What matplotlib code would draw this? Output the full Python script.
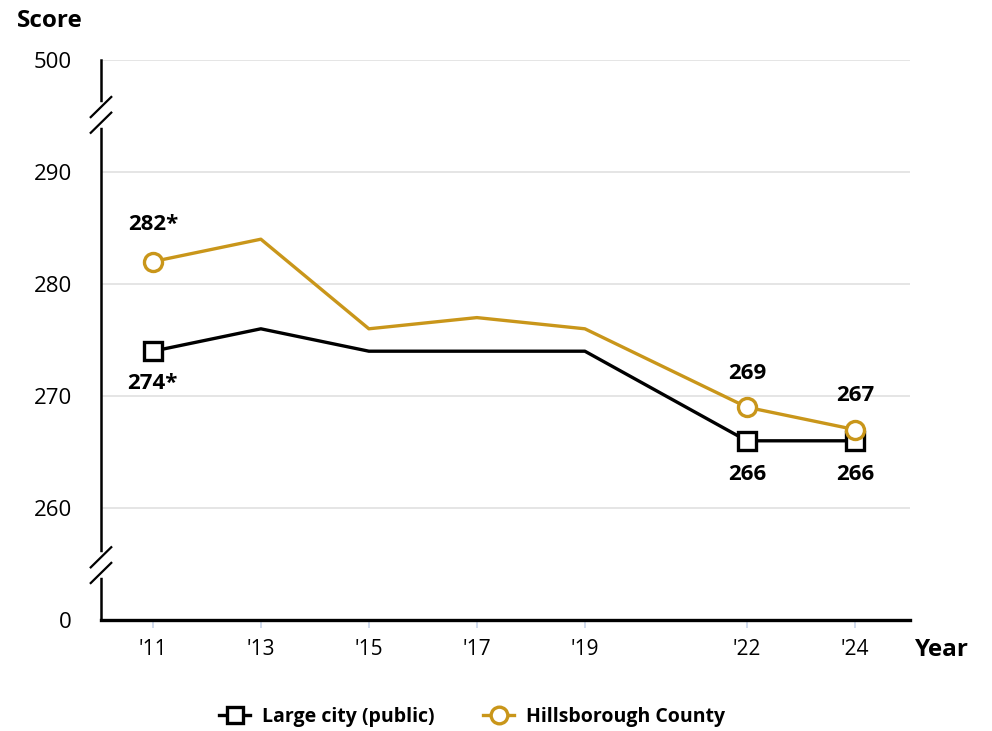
import matplotlib.pyplot as plt
from matplotlib.lines import Line2D

plt.rcParams['font.family'] = ['Open Sans', 'DejaVu Sans']

# === Dados ===
anos = [2011, 2013, 2015, 2017, 2019, 2022, 2024]
rotulos_x = ["'11", "'13", "'15", "'17", "'19", "'22", "'24"]
cidade = [274, 276, 274, 274, 274, 266, 266]
hillsborough = [282, 284, 276, 277, 276, 269, 267]
ticks_y = [250, 260, 270, 280, 290, 300]
rotulos_y = ["0", "260", "270", "280", "290", "500"]

PRETO = "#000000"
OURO = "#C9961A"
CINZA = "#E3E3E3"

fig = plt.figure(figsize=(9.92, 7.31), dpi=100)
ax = fig.add_axes([101/992, 1 - 620/731, (910-101)/992, (620-60)/731])
ax.set_xlim(2010.04, 2025.02)
ax.set_ylim(250, 300)

# grade
for v in ticks_y[1:]:
    ax.axhline(v, color=CINZA, lw=1.3, zorder=0)

ax.plot(anos, cidade, color=PRETO, lw=2.4, zorder=3)
ax.plot(anos, hillsborough, color=OURO, lw=2.4, zorder=3)

# marcadores só nos pontos rotulados
idx = [0, 5, 6]
ax.plot([anos[i] for i in idx], [cidade[i] for i in idx], ls='none', marker='s',
        ms=13, mfc='white', mec=PRETO, mew=2.4, zorder=4)
ax.plot([anos[i] for i in idx], [hillsborough[i] for i in idx], ls='none', marker='o',
        ms=13, mfc='white', mec=OURO, mew=2.4, zorder=5)

# rótulos
fs = 16
ax.annotate("282*", (anos[0], hillsborough[0]), xytext=(0, 27), textcoords='offset points',
            ha='center', va='center', fontsize=fs, fontweight='bold')
ax.annotate("274*", (anos[0], cidade[0]), xytext=(0, -23.5), textcoords='offset points',
            ha='center', va='center', fontsize=fs, fontweight='bold')
ax.annotate("269", (anos[5], hillsborough[5]), xytext=(0, 24.5), textcoords='offset points',
            ha='center', va='center', fontsize=fs, fontweight='bold')
ax.annotate("267", (anos[6], hillsborough[6]), xytext=(0, 24.5), textcoords='offset points',
            ha='center', va='center', fontsize=fs, fontweight='bold')
for i in [5, 6]:
    ax.annotate(str(cidade[i]), (anos[i], cidade[i]), xytext=(0, -24), textcoords='offset points',
                ha='center', va='center', fontsize=fs, fontweight='bold')

# eixos
for s in ['top', 'right']:
    ax.spines[s].set_visible(False)
ax.spines['left'].set_linewidth(1.8)
ax.spines['bottom'].set_linewidth(2.4)
ax.set_xticks(anos)
ax.set_xticklabels(rotulos_x, fontsize=15)
ax.tick_params(axis='x', length=6, width=1.2, color="#C8D4EA", pad=8)
ax.set_yticks(ticks_y)
ax.set_yticklabels(rotulos_y, fontsize=16)
ax.tick_params(axis='y', length=0, pad=21)

# quebras do eixo
for yb in [295.1, 254.9]:
    ax.plot([2010.04, 2010.04], [yb - 0.9, yb + 0.9], color='white', lw=4,
            clip_on=False, zorder=6)
    for dy in [-0.7, 0.7]:
        ax.plot([2009.85, 2010.23], [yb + dy - 0.9, yb + dy + 0.9], color=PRETO, lw=1.6,
                clip_on=False, zorder=7)

fig.text(17/992, 1 - 21/731, "Score", fontsize=17.5, fontweight='bold', va='center', ha='left')
fig.text(915/992, 1 - 650/731, "Year", fontsize=17.5, fontweight='bold', va='center', ha='left')

h1 = Line2D([], [], color=PRETO, lw=2.4, marker='s', ms=12, mfc='white', mew=2.4)
h2 = Line2D([], [], color=OURO, lw=2.4, marker='o', ms=12, mfc='white', mew=2.4)
fig.legend([h1, h2], ["Large city (public)", "Hillsborough County"], loc='center',
           bbox_to_anchor=(0.476, 1 - 717/731), ncol=2, frameon=False,
           prop={'size': 14, 'weight': 'bold'}, handlelength=1.6, columnspacing=2.5,
           handletextpad=0.6)

fig.savefig("out.png", dpi=100)
